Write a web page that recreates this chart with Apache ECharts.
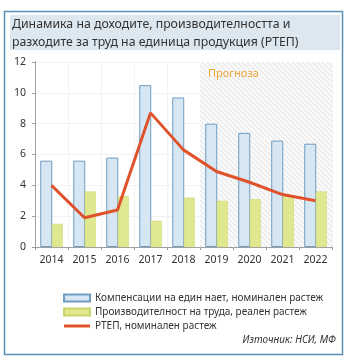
<!DOCTYPE html>
<html>
<head>
<meta charset="utf-8">
<script src="https://cdn.jsdelivr.net/npm/echarts@6/dist/echarts.min.js"></script>
<style>
  html, body { margin: 0; padding: 0; background: #ffffff; }
  #chart { width: 348px; height: 360px; }
</style>
</head>
<body>
<div id="chart"></div>
<script>
// Years on the category axis
const years = ['2014', '2015', '2016', '2017', '2018', '2019', '2020', '2021', '2022'];
// Compensation per employee, nominal growth (%)
const compensation = [5.6, 5.6, 5.8, 10.5, 9.7, 8.0, 7.4, 6.9, 6.7];
// Labour productivity, real growth (%)
const productivity = [1.5, 3.6, 3.3, 1.7, 3.2, 3.0, 3.1, 3.3, 3.6];
// Unit labour cost, nominal growth (%)
const ulc = [4.0, 1.9, 2.4, 8.7, 6.3, 4.9, 4.2, 3.4, 3.0];
// Forecast years are covered by a shaded band up to the axis top
const forecastBand = [null, null, null, null, null, 12, 12, 12, 12];
const yTicks = [0, 2, 4, 6, 8, 10, 12];

const names = [
  'Компенсации на един нает, номинален растеж',
  'Производителност на труда, реален растеж',
  'РТЕП, номинален растеж'
];

// Diagonal hatch for the forecast band
function hatchPattern() {
  const c = document.createElement('canvas');
  c.width = 5; c.height = 5;
  const g = c.getContext('2d');
  g.fillStyle = '#f9f9f9';
  g.fillRect(0, 0, 5, 5);
  g.strokeStyle = '#e2e2e2';
  g.lineWidth = 1;
  g.beginPath();
  g.moveTo(0, 0); g.lineTo(5, 5);
  g.moveTo(-3, 2); g.lineTo(3, 8);
  g.moveTo(2, -3); g.lineTo(8, 3);
  g.stroke();
  return c;
}

const font = '"Noto Sans", sans-serif';
const chart = echarts.init(document.getElementById('chart'), null, { renderer: 'canvas' });

chart.setOption({
  animation: false,
  textStyle: { fontFamily: font },
  graphic: [
    { type: 'rect', z: -10, shape: { x: 4.5, y: 11.5, width: 338, height: 343 },
      style: { fill: '#ffffff', stroke: '#5b90b2', lineWidth: 1.5 } },
    { type: 'rect', z: -9, shape: { x: 10, y: 15, width: 330, height: 35 },
      style: { fill: '#dde7ef' } },
    { type: 'text', left: 12, top: 15, z: 10,
      style: { text: 'Динамика на доходите, производителността и\nразходите за труд на единица продукция (РТЕП)',
               font: '12.3px ' + font, fill: '#333333', lineHeight: 18 } },
    { type: 'text', left: 208, top: 68, z: 10,
      style: { text: 'Прогноза', font: '11px ' + font, fill: '#f0a43a', letterSpacing: 1.5 } },
    { type: 'text', right: 12, top: 335, z: 10,
      style: { text: 'Източник: НСИ, МФ', font: 'italic 10px ' + font, fill: '#333333' } }
  ],
  grid: { left: 35, right: 16, top: 62, bottom: 113 },
  legend: {
    orient: 'vertical', left: 58, top: 288,
    itemWidth: 26, itemHeight: 7, itemGap: 4,
    data: names.map((n, i) => i < 2 ? { name: n, icon: 'rect' }
                                    : { name: n, icon: 'path://M0,0 L26,0 L26,3 L0,3 Z' }),
    textStyle: { fontSize: 10, color: '#333333', fontFamily: font }
  },
  xAxis: [
    {
      type: 'category', data: years,
      axisLine: { lineStyle: { color: '#a0a0a0' } },
      axisTick: { show: true, length: 3, lineStyle: { color: '#a0a0a0' } },
      axisLabel: { color: '#333333', fontSize: 10.5, margin: 8, interval: 0 },
      splitLine: { show: true, lineStyle: { color: '#f2f2f2' } }
    },
    { type: 'category', data: years, show: false }
  ],
  yAxis: {
    type: 'value', min: 0, max: 12, interval: 2,
    axisLine: { show: true, lineStyle: { color: '#a0a0a0' } },
    axisTick: { show: true, length: 3, lineStyle: { color: '#a0a0a0' } },
    axisLabel: { color: '#333333', fontSize: 10.5, margin: 9,
                 formatter: v => yTicks.includes(v) ? String(v) : '' },
    splitLine: { lineStyle: { color: '#f2f2f2' } }
  },
  series: [
    {
      name: 'forecast', type: 'bar', xAxisIndex: 1, data: forecastBand,
      barWidth: '100%', silent: true, z: 0,
      itemStyle: { color: { image: hatchPattern(), repeat: 'repeat' } }
    },
    {
      name: names[0], type: 'bar', data: compensation,
      barWidth: 12, barGap: '-4%', z: 2,
      itemStyle: { color: '#d6e6f2', borderColor: '#6e9cc2', borderWidth: 1 }
    },
    {
      name: names[1], type: 'bar', data: productivity,
      barWidth: 11, z: 2,
      itemStyle: { color: '#dfe88e', borderColor: '#c9d46a', borderWidth: 0.5 }
    },
    {
      name: names[2], type: 'line', data: ulc, z: 5,
      symbol: 'none',
      lineStyle: { color: '#e0522b', width: 3 },
      itemStyle: { color: '#e0522b' }
    }
  ]
});
</script>
</body>
</html>
